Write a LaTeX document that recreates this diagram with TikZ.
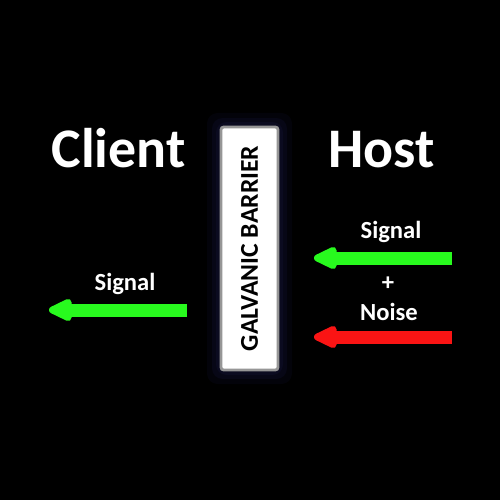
\documentclass[tikz,border=0pt]{standalone}
\usepackage{fontspec}
\setmainfont{Carlito}
\usepackage{xcolor}
\usetikzlibrary{positioning,arrows.meta}
\definecolor{sigGreen}{RGB}{40,250,30}
\definecolor{noiseRed}{RGB}{250,20,20}
\definecolor{barrierEdge}{RGB}{150,150,150}
\definecolor{glowBlue}{RGB}{14,14,40}
\tikzset{
    sidelabel/.style={text=white, font=\fontsize{31.8}{35}\selectfont\bfseries, anchor=base, inner sep=0pt},
    flowlabel/.style={text=white, font=\fontsize{14}{16}\selectfont\bfseries, anchor=base, inner sep=0pt},
    barrierbox/.style={draw=barrierEdge, line width=1.6pt, fill=white, rounded corners=1.5pt, rotate=90,
        minimum width=4.86cm, minimum height=1.14cm, text=black, font=\fontsize{14.6}{16}\selectfont\bfseries},
    flowarrow/.style={line width=0.26cm, -{Triangle[round, length=0.56cm, width=0.48cm]}}
}
\begin{document}
\begin{tikzpicture}[x=0.02cm, y=-0.02cm]
    \fill[black] (0,0) rectangle (500,500);
    \useasboundingbox (0,0) rectangle (500,500);
    % faint halo round the barrier
    \foreach \g/\o in {14/0.25, 9/0.4, 5/0.6}
        \fill[glowBlue, opacity=\o, rounded corners=6pt] (221-\g,127-\g) rectangle (278+\g,370+\g);
    \node[barrierbox] (barrier) at (249.5,248.5) {GALVANIC BARRIER};
    \node[sidelabel] (client) at (118.5,167) {Client};
    \node[sidelabel] (host) at (381.5,167) {Host};
    % host side
    \node[flowlabel] (hostsig) at (391,238) {Signal};
    \node[flowlabel, anchor=center] (plus) at (388,284) {+};
    \node[flowlabel] (noise) at (389,320) {Noise};
    \coordinate (hsigA) at (452,258);
    \coordinate (hsigB) at (314,258);
    \coordinate (noiseA) at (452,337);
    \coordinate (noiseB) at (314,337);
    \draw[flowarrow, sigGreen] (hsigA) -- (hsigB);
    \draw[flowarrow, noiseRed] (noiseA) -- (noiseB);
    % client side
    \node[flowlabel] (clientsig) at (125,290) {Signal};
    \coordinate (csigA) at (187,310);
    \coordinate (csigB) at (49,310);
    \draw[flowarrow, sigGreen] (csigA) -- (csigB);
\end{tikzpicture}
\end{document}
